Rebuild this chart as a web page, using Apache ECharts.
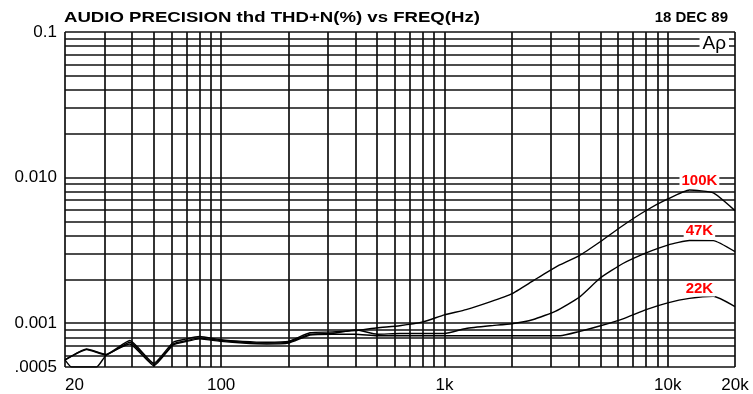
<!DOCTYPE html>
<html><head><meta charset="utf-8">
<script src="https://cdn.jsdelivr.net/npm/echarts@6/dist/echarts.min.js"></script>
<style>html,body{margin:0;padding:0;background:#fff}#c{width:753px;height:394px}</style>
</head><body><div id="c"></div>
<script>
// ---- data ----
const freqs = [20, 25, 30.5, 39, 50, 61, 70, 80, 100, 125, 160, 200, 250, 315, 400, 500, 630, 800, 1000, 1250, 1600, 2000, 2500, 3150, 4000, 5000, 6300, 8000, 10000, 12500, 16000, 20000];
const thd100k = [0.00056, 0.000665, 0.00061, 0.00076, 0.00053, 0.00074, 0.00078, 0.00081, 0.00077, 0.00075, 0.00074, 0.00075, 0.00086, 0.00087, 0.00089, 0.00093, 0.00096, 0.00102, 0.00114, 0.00124, 0.0014, 0.00159, 0.00196, 0.00243, 0.0029, 0.00364, 0.00469, 0.00594, 0.00713, 0.00822, 0.00785, 0.00593];
const thd47k = [0.00056, 0.00066, 0.000605, 0.00074, 0.00052, 0.00072, 0.00076, 0.00079, 0.00076, 0.00074, 0.00073, 0.00074, 0.00084, 0.00085, 0.0009, 0.00084, 0.00085, 0.00085, 0.00085, 0.00092, 0.00096, 0.00099, 0.00106, 0.00121, 0.0015, 0.00205, 0.00257, 0.00304, 0.00344, 0.0037, 0.00369, 0.0031];
const freqs22k = [20, 21.4, 27.7, 30.5, 39, 50, 61, 70, 80, 100, 125, 160, 200, 250, 315, 400, 500, 630, 800, 1000, 1600, 2500, 3300, 4000, 5000, 6300, 8000, 10000, 12500, 16000, 20000];
const thd22k = [0.00056, 0.0005, 0.0005, 0.0006, 0.00072, 0.00051, 0.00071, 0.00075, 0.00078, 0.00075, 0.00073, 0.00072, 0.00073, 0.00083, 0.00084, 0.00084, 0.00082, 0.00082, 0.00082, 0.00082, 0.00082, 0.00082, 0.00082, 0.000875, 0.00096, 0.00107, 0.00124, 0.00138, 0.00148, 0.00153, 0.0013];
const curveNames = ['100K', '47K', '22K'];
const labelFreq = 12500;

const xGridValues = [20, 30, 40, 50, 60, 70, 80, 90, 100, 200, 300, 400, 500, 600, 700, 800, 900, 1000, 2000, 3000, 4000, 5000, 6000, 7000, 8000, 9000, 10000, 20000];
const yGridValues = [0.0005, 0.0006, 0.0007, 0.0008, 0.0009, 0.001, 0.002, 0.003, 0.004, 0.005, 0.006, 0.007, 0.008, 0.009, 0.01, 0.02, 0.03, 0.04, 0.05, 0.06, 0.07, 0.08, 0.09, 0.1];
const xTickValues = [20, 100, 1000, 10000, 20000];
const xTickLabels = ['20', '100', '1k', '10k', '20k'];
const yTickValues = [0.0005, 0.001, 0.01, 0.1];
const yTickLabels = ['.0005', '0.001', '0.010', '0.1'];

const titleText = 'AUDIO PRECISION thd THD+N(%) vs FREQ(Hz)';
const dateText = '18 DEC 89';
const logoText = 'Aρ';

// ---- chart ----
const FONT = "'Liberation Sans', Arial, sans-serif";
function pick(v, vals, labels) {
  for (let i = 0; i < vals.length; i++) {
    if (Math.abs(Math.log10(v) - Math.log10(vals[i])) < 0.01) return labels[i];
  }
  return '';
}
function curve(name, fs, vs) {
  return {
    type: 'line', name: name,
    data: fs.map((f, i) => f === labelFreq ? {
      value: [f, vs[i]],
      label: {
        show: true, formatter: name, position: 'top', distance: 2, offset: [10, 0],
        color: '#ff0000', fontWeight: 'bold', fontSize: 15, fontFamily: FONT,
        backgroundColor: '#ffffff', padding: [0, 2], lineHeight: 15
      }
    } : [f, vs[i]]),
    showSymbol: true, symbol: 'circle', symbolSize: 0,
    smooth: 0.15,
    lineStyle: {color: '#000', width: 1.4},
    itemStyle: {color: '#000'},
    silent: true, z: 3, animation: false
  };
}

const chart = echarts.init(document.getElementById('c'));
const gridLineStyle = {color: '#111', width: 1.7, type: 'solid'};
chart.setOption({
  animation: false,
  backgroundColor: '#fff',
  title: [
    {text: dateText, right: 25, top: 10, padding: 0,
     textStyle: {fontFamily: FONT, fontWeight: 'bold', fontSize: 15, color: '#000'}},
    {text: logoText, right: 24, top: 34, padding: [0, 3], backgroundColor: '#fff', z: 10,
     textStyle: {fontFamily: FONT, fontWeight: 'normal', fontSize: 19, lineHeight: 19, color: '#000'}}
  ],
  graphic: [
    {type: 'text', x: 64, y: 10, scaleX: 1.24, scaleY: 1, silent: true,
     style: {text: titleText, fill: '#000', font: "bold 15px 'Liberation Sans', Arial, sans-serif", textVerticalAlign: 'top'}}
  ],
  grid: {left: 65, right: 18, top: 32, bottom: 27, containLabel: false},
  xAxis: {
    type: 'log', logBase: 10, min: 20, max: 20000,
    axisLine: {show: false}, axisTick: {show: false}, splitLine: {show: false}, minorSplitLine: {show: false},
    axisLabel: {
      show: true, margin: 10, showMinLabel: true, showMaxLabel: true, alignMinLabel: 'left',
      fontFamily: FONT, fontSize: 17, color: '#000',
      formatter: v => pick(v, xTickValues, xTickLabels)
    }
  },
  yAxis: {
    type: 'log', logBase: 10, min: 0.0005, max: 0.1,
    axisLine: {show: false}, axisTick: {show: false}, splitLine: {show: false}, minorSplitLine: {show: false},
    axisLabel: {
      show: true, margin: 8, showMinLabel: true, showMaxLabel: true,
      fontFamily: FONT, fontSize: 17, color: '#000',
      formatter: v => pick(v, yTickValues, yTickLabels)
    }
  },
  series: [
    {
      type: 'line', name: 'grid', data: [], silent: true, z: 1,
      markLine: {
        silent: true, symbol: ['none', 'none'], animation: false, precision: 10, z: 1,
        label: {show: false}, lineStyle: gridLineStyle, emphasis: {disabled: true},
        data: xGridValues.map(v => ({xAxis: v})).concat(yGridValues.map(v => ({yAxis: v})))
      }
    },
    curve(curveNames[0], freqs, thd100k),
    curve(curveNames[1], freqs, thd47k),
    curve(curveNames[2], freqs22k, thd22k)
  ]
});
</script>
</body></html>
